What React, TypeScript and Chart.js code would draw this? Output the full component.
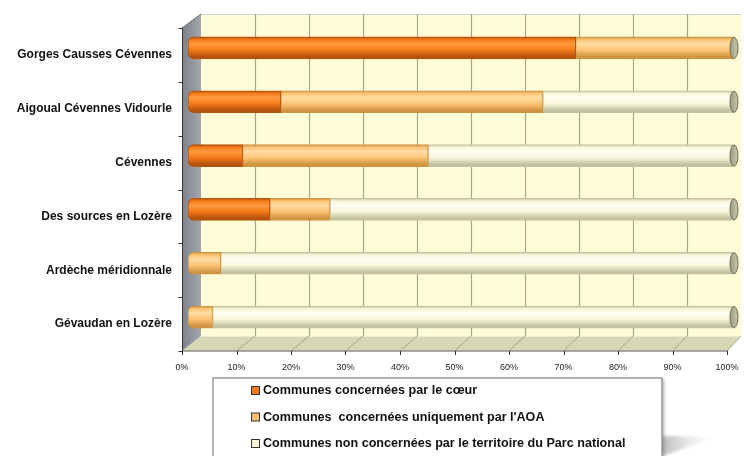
import React, { useEffect, useRef } from "react";
import { Chart, registerables } from "chart.js";

Chart.register(...registerables);

const categories = [
  "Gorges Causses Cévennes",
  "Aigoual Cévennes Vidourle",
  "Cévennes",
  "Des sources en Lozère",
  "Ardèche méridionnale",
  "Gévaudan en Lozère",
];
const coeur = [71, 17, 10, 15, 0, 0];
const aoa = [29, 48, 34, 11, 6, 4.5];
const nonConcernees = [0, 35, 56, 74, 94, 95.5];
const seriesLabels = [
  "Communes concernées par le cœur",
  "Communes  concernées uniquement par l'AOA",
  "Communes non concernées par le territoire du Parc national",
];
const xTickValues = [0, 10, 20, 30, 40, 50, 60, 70, 80, 90, 100];
const xTickLabels = ["0%", "10%", "20%", "30%", "40%", "50%", "60%", "70%", "80%", "90%", "100%"];

const BAR_T = 22;
const palettes = [
  { edge: "#B4520E", base: "#F47A18", hi: "#FF9A40", legend: "#F07820" },
  { edge: "#CF9440", base: "#FBC373", hi: "#FFDDA4", legend: "#FBC070" },
  { edge: "#C4C1A0", base: "#F8F6DA", hi: "#FFFFF4", legend: "#FAF8D8" },
];
const seriesData = [coeur, aoa, nonConcernees];

const FONT = '"Liberation Sans", Arial, sans-serif';

function makeFill(di: number) {
  return (ctx: any) => {
    const p = palettes[di];
    const chart = ctx.chart;
    if (!chart.chartArea || !chart.scales || !chart.scales.y) return p.base;
    const y = chart.scales.y.getPixelForValue(ctx.dataIndex);
    const h = BAR_T / 2;
    const g = chart.ctx.createLinearGradient(0, y - h, 0, y + h);
    g.addColorStop(0, p.edge);
    g.addColorStop(0.12, p.base);
    g.addColorStop(0.32, p.hi);
    g.addColorStop(0.6, p.base);
    g.addColorStop(0.9, p.edge);
    g.addColorStop(1, p.edge);
    return g;
  };
}

function makeRadius(di: number) {
  return (ctx: any) => {
    const i = ctx.dataIndex;
    let first = -1;
    for (let k = 0; k < seriesData.length; k++) {
      if (seriesData[k][i] > 0) {
        first = k;
        break;
      }
    }
    if (first === di) return { topLeft: 6, bottomLeft: 6, topRight: 0, bottomRight: 0 };
    return 0;
  };
}

const geo = {
  front: (xs: any, v: number) => xs.getPixelForValue(v) - 6 - 0.01 * v,
  back: (xs: any, v: number) => xs.getPixelForValue(v) + 13 - 0.06 * v,
};

const wallsPlugin = {
  id: "walls3d",
  beforeDatasetsDraw(chart: any) {
    const { ctx, chartArea } = chart;
    const xs = chart.scales.x;
    const top = chartArea.top;
    const bottom = chartArea.bottom;
    const fTop = top + 7;
    const fBot = bottom + 7;
    const bTop = top - 7;
    const bBot = bottom - 8;
    ctx.save();
    ctx.fillStyle = "#FFFCD8";
    ctx.fillRect(geo.back(xs, 0), bTop, geo.back(xs, 100) - geo.back(xs, 0), bBot - bTop);
    ctx.strokeStyle = "#CFCFC8";
    ctx.lineWidth = 1;
    ctx.beginPath();
    ctx.moveTo(geo.back(xs, 0), bTop + 0.5);
    ctx.lineTo(geo.back(xs, 100), bTop + 0.5);
    ctx.stroke();
    ctx.strokeStyle = "#A9A68B";
    ctx.lineWidth = 1.2;
    for (const v of xTickValues) {
      if (v === 0 || v === 100) continue;
      const x = Math.round(geo.back(xs, v)) + 0.5;
      ctx.beginPath();
      ctx.moveTo(x, bTop);
      ctx.lineTo(x, bBot);
      ctx.stroke();
    }
    ctx.fillStyle = "#D9D6B5";
    ctx.beginPath();
    ctx.moveTo(geo.front(xs, 0), fBot);
    ctx.lineTo(geo.back(xs, 0), bBot);
    ctx.lineTo(geo.back(xs, 100), bBot);
    ctx.lineTo(geo.front(xs, 100), fBot);
    ctx.closePath();
    ctx.fill();
    ctx.strokeStyle = "#EDEBD2";
    ctx.lineWidth = 1;
    ctx.beginPath();
    ctx.moveTo(geo.back(xs, 0), bBot + 0.5);
    ctx.lineTo(geo.back(xs, 100), bBot + 0.5);
    ctx.stroke();
    ctx.strokeStyle = "#A8A58A";
    for (const v of xTickValues) {
      if (v === 0) continue;
      ctx.beginPath();
      ctx.moveTo(geo.back(xs, v), bBot);
      ctx.lineTo(geo.front(xs, v), fBot);
      ctx.stroke();
    }
    ctx.strokeStyle = "#8E8E8E";
    ctx.lineWidth = 1.5;
    ctx.beginPath();
    ctx.moveTo(geo.front(xs, 0), fBot);
    ctx.lineTo(geo.front(xs, 100), fBot);
    ctx.stroke();
    const sg = ctx.createLinearGradient(geo.front(xs, 0), 0, geo.back(xs, 0), 0);
    sg.addColorStop(0, "#7F828A");
    sg.addColorStop(1, "#A3A6AC");
    ctx.fillStyle = sg;
    ctx.beginPath();
    ctx.moveTo(geo.front(xs, 0), fTop);
    ctx.lineTo(geo.back(xs, 0), bTop);
    ctx.lineTo(geo.back(xs, 0), bBot);
    ctx.lineTo(geo.front(xs, 0), fBot);
    ctx.closePath();
    ctx.fill();
    ctx.strokeStyle = "#6A6C72";
    ctx.lineWidth = 1;
    ctx.beginPath();
    ctx.moveTo(geo.front(xs, 0), fTop);
    ctx.lineTo(geo.back(xs, 0), bTop);
    ctx.stroke();
    ctx.strokeStyle = "#333";
    ctx.lineWidth = 1;
    const fx = Math.round(geo.front(xs, 0)) + 0.5;
    ctx.beginPath();
    ctx.moveTo(fx, fTop);
    ctx.lineTo(fx, fBot);
    ctx.stroke();
    const n = categories.length;
    const band = (bottom - top) / n;
    for (let i = 0; i <= n; i++) {
      const y = Math.round(fTop + i * band) + 0.5;
      ctx.beginPath();
      ctx.moveTo(fx - 4, y);
      ctx.lineTo(fx, y);
      ctx.stroke();
    }
    for (const v of xTickValues) {
      const x = Math.round(geo.front(xs, v)) + 0.5;
      ctx.beginPath();
      ctx.moveTo(x, fBot);
      ctx.lineTo(x, fBot + 4);
      ctx.stroke();
    }
    ctx.restore();
  },
  afterDatasetsDraw(chart: any) {
    const { ctx } = chart;
    const xs = chart.scales.x;
    const ys = chart.scales.y;
    ctx.save();
    const x = xs.getPixelForValue(100);
    for (let i = 0; i < categories.length; i++) {
      const y = ys.getPixelForValue(i);
      const g = ctx.createLinearGradient(x - 4, 0, x + 4, 0);
      g.addColorStop(0, "#9E9C80");
      g.addColorStop(1, "#C9C7AC");
      ctx.fillStyle = g;
      ctx.beginPath();
      ctx.ellipse(x, y, 4, BAR_T / 2 - 0.5, 0, 0, Math.PI * 2);
      ctx.fill();
      ctx.strokeStyle = "#6E6C58";
      ctx.lineWidth = 1;
      ctx.stroke();
    }
    ctx.restore();
  },
  afterDraw(chart: any) {
    const { ctx } = chart;
    const xs = chart.scales.x;
    const ys = chart.scales.y;
    ctx.save();
    ctx.fillStyle = "#111";
    ctx.font = `bold 12px ${FONT}`;
    ctx.textAlign = "right";
    ctx.textBaseline = "middle";
    categories.forEach((c, i) => {
      ctx.fillText(c, 172, ys.getPixelForValue(i) + 7);
    });
    ctx.font = `9px ${FONT}`;
    ctx.fillStyle = "#222";
    ctx.textAlign = "center";
    xTickValues.forEach((v, i) => {
      ctx.fillText(xTickLabels[i], geo.front(xs, v), 368);
    });
    const lx = 213, ly = 378, lw = 449, lh = 100;
    ctx.save();
    ctx.beginPath();
    ctx.moveTo(lw + lx, 436);
    ctx.lineTo(lw + lx + 55, 437);
    ctx.lineTo(lw + lx, 456);
    ctx.closePath();
    const sh = ctx.createLinearGradient(lx + lw, 0, lx + lw + 55, 0);
    sh.addColorStop(0, "rgba(140,140,140,0.6)");
    sh.addColorStop(1, "rgba(220,220,220,0)");
    ctx.fillStyle = sh;
    ctx.filter = "blur(1.5px)";
    ctx.fill();
    ctx.restore();
    ctx.save();
    ctx.shadowColor = "rgba(0,0,0,0.3)";
    ctx.shadowBlur = 3;
    ctx.shadowOffsetX = 2;
    ctx.shadowOffsetY = 1;
    ctx.fillStyle = "#FFFFFF";
    ctx.fillRect(lx, ly, lw, lh);
    ctx.restore();
    ctx.strokeStyle = "#9A9A9A";
    ctx.lineWidth = 1.5;
    ctx.strokeRect(lx, ly, lw, lh);
    const rows = [391, 417.5, 444];
    chart.data.datasets.forEach((ds: any, i: number) => {
      const y = rows[i];
      ctx.fillStyle = palettes[i].legend;
      ctx.fillRect(251.5, y - 4.5, 8, 8);
      ctx.strokeStyle = "#333";
      ctx.lineWidth = 1;
      ctx.strokeRect(251.5, y - 4.5, 8, 8);
      ctx.fillStyle = "#111";
      ctx.font = `bold 12.6px ${FONT}`;
      ctx.textAlign = "left";
      ctx.textBaseline = "middle";
      ctx.fillText(ds.label, 263, y);
    });
    ctx.restore();
  },
};

export default function App() {
  const ref = useRef<HTMLCanvasElement | null>(null);
  useEffect(() => {
    if (!ref.current) return;
    const chart = new Chart(ref.current, {
      type: "bar",
      data: {
        labels: categories,
        datasets: seriesData.map((d, i) => ({
          label: seriesLabels[i],
          data: d,
          backgroundColor: makeFill(i),
          borderColor: palettes[i].edge,
          borderWidth: 1,
          borderSkipped: false,
          borderRadius: makeRadius(i),
          barThickness: BAR_T,
        })),
      },
      options: {
        indexAxis: "y",
        animation: false,
        responsive: false,
        devicePixelRatio: 1,
        layout: { padding: { left: 188, right: 11, top: 21, bottom: 112 } },
        scales: {
          x: { stacked: true, min: 0, max: 100, display: false },
          y: { stacked: true, display: false },
        },
        plugins: {
          legend: { display: false },
          tooltip: { enabled: false },
        },
      },
      plugins: [wallsPlugin],
    } as any);
    return () => chart.destroy();
  }, []);
  return (
    <div style={{ position: "fixed", left: 0, top: 0, width: 745, height: 456, background: "#fff" }}>
      <canvas ref={ref} width={745} height={456} style={{ width: 745, height: 456 }} />
    </div>
  );
}
